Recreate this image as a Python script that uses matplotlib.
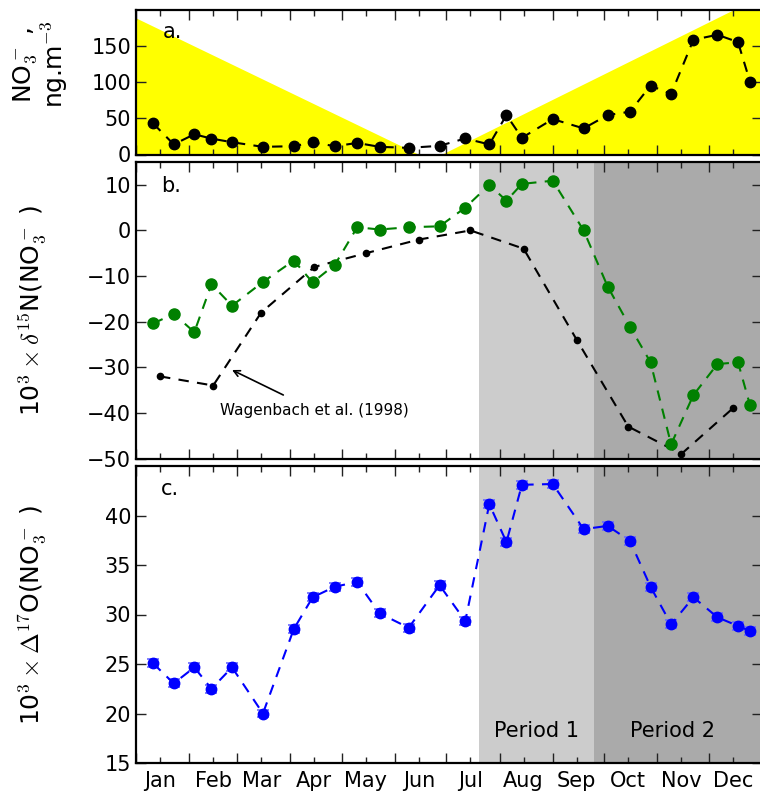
import matplotlib
matplotlib.use('Agg')
import matplotlib.pyplot as plt

plt.rcParams['font.family'] = ['DejaVu Sans']
plt.rcParams['mathtext.fontset'] = 'cm'

# ---------------- data ----------------
month_names = ['Jan', 'Feb', 'Mar', 'Apr', 'May', 'Jun',
               'Jul', 'Aug', 'Sep', 'Oct', 'Nov', 'Dec']
month_start_days = [0, 31, 59, 90, 120, 151, 181, 212, 243, 273, 304, 334]
month_mid_days = [14, 45, 73, 104, 134, 165, 195, 226, 257, 287, 318, 348]

sample_days = [10, 22, 34, 44, 56, 74, 92, 103, 116, 129, 142, 159, 177,
               192, 206, 216, 225, 243, 261, 275, 288, 300, 312, 325, 339, 351, 358]

no3_conc = [43, 14, 28, 22, 17, 10.6, 11.5, 16.7, 11.5, 16, 10.6, 9.2, 12,
            22.2, 13.9, 54.6, 23.1, 49, 36.1, 54.6, 59.2, 95.3, 83.8, 158.8,
            165.7, 155.6, 100.8]

d15n = [-20.4, -18.3, -22.3, -11.8, -16.5, -11.3, -6.6, -11.4, -7.5, 0.7, 0.2,
        0.7, 0.9, 5.0, 10.0, 6.5, 10.2, 10.9, 0.0, -12.3, -21.1, -28.9, -46.9,
        -36.1, -29.3, -28.9, -38.3]

d17o = [25.06, 23.04, 24.66, 22.5, 24.66, 20.0, 28.53, 31.74, 32.81, 33.29,
        30.12, 28.66, 32.96, 29.34, 41.15, 37.31, 43.1, 43.18, 38.62, 38.95,
        37.44, 32.81, 29.0, 31.74, 29.72, 28.84, 28.33]
d17o_err = [0.4] * len(d17o)

wagenbach_days = month_mid_days
wagenbach_d15n = [-32, -34, -18, -8, -5, -2, 0, -4, -24, -43, -49, -39]

sun_days = [0, 165, 178, 348, 365]
sun_vals = [189, 0, 0, 200, 225]

period1 = (200, 267)
period2 = (267, 365)

# ---------------- figure ----------------
W, H = 760, 794
fig = plt.figure(figsize=(W / 100, H / 100), dpi=100)

def ax_rect(top, bottom, left=136, right=762):
    return [left / W, 1 - bottom / H, (right - left) / W, (bottom - top) / H]

ax_a = fig.add_axes(ax_rect(10, 154.5))
ax_b = fig.add_axes(ax_rect(162, 458.5))
ax_c = fig.add_axes(ax_rect(466, 763))

FS = 15
dash = (5, 4)

for ax in (ax_a, ax_b, ax_c):
    ax.set_xlim(0, 365)
    ax.set_xticks(month_start_days)
    ax.set_xticks(month_mid_days, minor=True)
    ax.tick_params(which='both', direction='in', top=True, right=True,
                   labelsize=FS, color='#222222')
    ax.tick_params(which='major', length=7, width=1)
    ax.tick_params(which='minor', length=4, width=1)
    ax.set_xticklabels([])
    ax.set_xticklabels([], minor=True)
    for s in ax.spines.values():
        s.set_linewidth(1.6)

# ---- panel a ----
ax_a.fill_between(sun_days, 0, sun_vals, color='#ffff00', lw=0, zorder=0)
ax_a.plot(sample_days, no3_conc, color='black', ls='--', dashes=dash, lw=1.5,
          marker='o', ms=7.5)
ax_a.set_ylim(0, 200)
ax_a.set_yticks([0, 50, 100, 150])
ax_a.set_ylabel('NO$_3^-$ ,\nng.m$^{-3}$', fontsize=18, linespacing=1.0)
ax_a.yaxis.set_label_coords(-0.106, 0.62)
ax_a.text(0.043, 0.85, 'a.', transform=ax_a.transAxes, fontsize=FS,
          va='center', ha='left')

# ---- panel b ----
ax_b.axvspan(*period1, color='#cccccc', lw=0, zorder=0)
ax_b.axvspan(*period2, color='#aaaaaa', lw=0, zorder=0)
ax_b.plot(wagenbach_days, wagenbach_d15n, color='black', ls='--', dashes=dash,
          lw=1.5, marker='o', ms=4.5)
ax_b.plot(sample_days, d15n, color='green', ls='--', dashes=dash, lw=1.5,
          marker='o', ms=8)
ax_b.set_ylim(-50, 15)
ax_b.set_yticks([-50, -40, -30, -20, -10, 0, 10])
ax_b.set_ylabel(r'10$^3\times\delta^{15}$N(NO$_3^-$ )', fontsize=18)
ax_b.yaxis.set_label_coords(-0.141, 0.5)
ax_b.text(0.04, 0.919, 'b.', transform=ax_b.transAxes, fontsize=FS,
          va='center', ha='left')
ax_b.annotate('Wagenbach et al. (1998)', xy=(56, -30.6), xytext=(104, -39.4),
              fontsize=11, ha='center', va='center',
              arrowprops=dict(arrowstyle='->', color='black', lw=1.2,
                              shrinkA=8, shrinkB=0))

# ---- panel c ----
ax_c.axvspan(*period1, color='#cccccc', lw=0, zorder=0)
ax_c.axvspan(*period2, color='#aaaaaa', lw=0, zorder=0)
ax_c.errorbar(sample_days, d17o, yerr=d17o_err, color='blue', ls='--',
              dashes=dash, lw=1.5, marker='o', ms=7.5, ecolor='#6a6aff',
              elinewidth=1.2, capsize=4.5, capthick=1.2)
ax_c.set_ylim(15, 45)
ax_c.set_yticks([15, 20, 25, 30, 35, 40])
ax_c.set_ylabel(r'10$^3\times\Delta^{17}$O(NO$_3^-$ )', fontsize=18)
ax_c.yaxis.set_label_coords(-0.141, 0.5)
ax_c.text(0.04, 0.922, 'c.', transform=ax_c.transAxes, fontsize=FS,
          va='center', ha='left')
ax_c.text(sum(period1) / 2, 18.2, 'Period 1', fontsize=FS, ha='center', va='center')
ax_c.text(312.8, 18.2, 'Period 2', fontsize=FS, ha='center', va='center')
ax_c.set_xticklabels(month_names, minor=True, fontsize=FS)
ax_c.tick_params(axis='x', which='minor', pad=6)

fig.savefig('out.png', dpi=100)
